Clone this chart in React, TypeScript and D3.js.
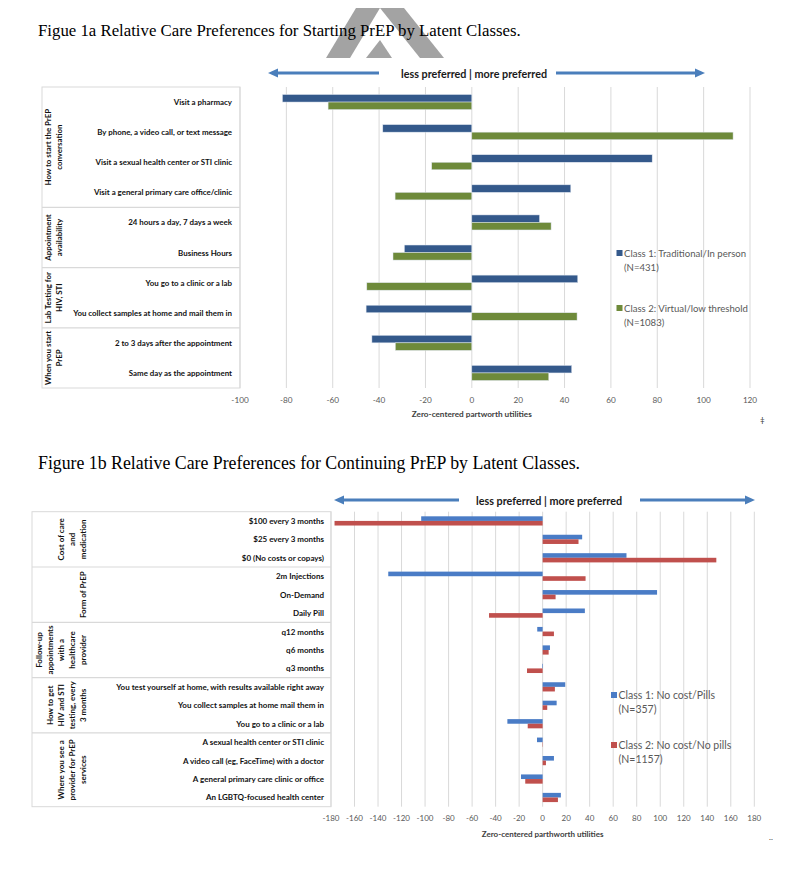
import React from "react";
import * as d3 from "d3";

// ---------- Figure 1a data ----------
const topCategories = [
  "Visit a pharmacy",
  "By phone, a video call, or text message",
  "Visit a sexual health center or STI clinic",
  "Visit a general primary care office/clinic",
  "24 hours a day, 7 days a week",
  "Business Hours",
  "You go to a clinic or a lab",
  "You collect samples at home and mail them in",
  "2 to 3 days after the appointment",
  "Same day as the appointment",
];
const topClass1 = [-81.7, -38.4, 77.8, 42.7, 29.2, -29.1, 45.7, -45.6, -43.1, 43.1];
const topClass2 = [-62, 112.7, -17.3, -33.1, 34.2, -34, -45.3, 45.4, -33, 33.2];
const topGroupLabels = [
  ["How to start the PrEP", "conversation"],
  ["Appointment", "availability"],
  ["Lab Testing for", "HIV, STI"],
  ["When you start", "PrEP"],
];
const topGroupSizes = [4, 2, 2, 2];
const topLegend = [
  ["Class 1: Traditional/In person", "(N=431)"],
  ["Class 2: Virtual/low threshold", "(N=1083)"],
];
const topAxisTitle = "Zero-centered partworth utilities";
const topDomain = [-100, 120];

// ---------- Figure 1b data ----------
const bottomCategories = [
  "$100 every 3 months",
  "$25 every 3 months",
  "$0 (No costs or copays)",
  "2m Injections",
  "On-Demand",
  "Daily Pill",
  "q12 months",
  "q6 months",
  "q3 months",
  "You test yourself at home, with results available right away",
  "You collect samples at home mail them in",
  "You go to a clinic or a lab",
  "A sexual health center or STI clinic",
  "A video call (eg, FaceTime) with a doctor",
  "A general primary care clinic or office",
  "An LGBTQ-focused health center",
];
const bottomClass1 = [-103.3, 33.6, 71.3, -131.3, 97.3, 35.9, -4.6, 6.2, -0.5, 19.2, 11.9, -30, -4.8, 9.6, -18.4, 15.5];
const bottomClass2 = [-177, 30.5, 147.7, 36.5, 11, -45.6, 9.6, 5.1, -13.3, 10.4, 3.9, -12.7, -0.3, 2.8, -14.8, 13];
const bottomGroupLabels = [
  ["Cost of care", "and", "medication"],
  ["Form of PrEP"],
  ["Follow-up", "appointments", "with a", "healthcare", "provider"],
  ["How to get", "HIV and STI", "testing, every", "3 months"],
  ["Where you see a", "provider for PrEP", "services"],
];
const bottomGroupSizes = [3, 3, 3, 3, 4];
const bottomLegend = [
  ["Class 1: No cost/Pills", "(N=357)"],
  ["Class 2: No cost/No pills", "(N=1157)"],
];
const bottomAxisTitle = "Zero-centered parthworth utilities";
const bottomDomain = [-180, 180];

const FONT = "Lato, 'Open Sans', sans-serif";
const SERIF = "'Liberation Serif', 'Times New Roman', serif";

type PanelProps = {
  categories: string[];
  s1: number[];
  s2: number[];
  groupLabels: string[][];
  groupSizes: number[];
  legend: string[][];
  axisTitle: string;
  domain: number[];
  colors: string[];
  tableX0: number;
  plotX0: number;
  plotX1: number;
  y0: number;
  y1: number;
  labelRight: number;
  groupLastX: number;
  labelSize: number;
  tickSize: number;
  tickY: number;
  titleY: number;
  legendX: number;
  legendYs: number[];
  legendSize: number;
  legendLine: number;
  barStroke: string;
};

function Panel(p: PanelProps) {
  const x = d3.scaleLinear().domain(p.domain).range([p.plotX0, p.plotX1]);
  const y = d3.scaleBand<string>().domain(p.categories).range([p.y0, p.y1]).padding(0);
  const sub = d3
    .scaleBand<string>()
    .domain(["a", "b"])
    .range([0, y.bandwidth()])
    .paddingInner(0)
    .paddingOuter(1);
  const ticks = d3.range(p.domain[0], p.domain[1] + 1, 20);
  const cum = d3.cumsum(p.groupSizes);
  const step = y.step();
  const series = [p.s1, p.s2];
  return (
    <g>
      {ticks.map((t) => (
        <line key={"g" + t} x1={x(t)} x2={x(t)} y1={p.y0} y2={p.y1} stroke="#d9d9d9" strokeWidth={1} />
      ))}
      <rect x={p.tableX0} y={p.y0} width={p.plotX0 - p.tableX0} height={p.y1 - p.y0} fill="none" stroke="#d9d9d9" strokeWidth={1} />
      {Array.from(cum)
        .slice(0, -1)
        .map((c, i) => (
          <line key={"d" + i} x1={p.tableX0} x2={p.plotX0} y1={p.y0 + c * step} y2={p.y0 + c * step} stroke="#d9d9d9" strokeWidth={1.2} />
        ))}
      {p.categories.map((c) => (
        <text
          key={"l" + c}
          x={p.labelRight}
          y={(y(c) as number) + step / 2}
          textAnchor="end"
          dominantBaseline="central"
          fontFamily={FONT}
          fontWeight="bold"
          fontSize={p.labelSize}
          fill="#111"
        >
          {c}
        </text>
      ))}
      {p.groupLabels.map((lines, gi) => {
        const start = gi === 0 ? 0 : cum[gi - 1];
        const cy = p.y0 + ((start + cum[gi]) / 2) * step;
        return lines.map((ln, li) => {
          const lx = p.groupLastX - (lines.length - 1 - li) * 11;
          return (
            <text
              key={"gl" + gi + "-" + li}
              transform={`translate(${lx},${cy}) rotate(-90)`}
              textAnchor="middle"
              dominantBaseline="central"
              fontFamily={FONT}
              fontWeight="bold"
              fontSize={p.labelSize}
              fill="#111"
            >
              {ln}
            </text>
          );
        });
      })}
      {series.map((vals, si) =>
        p.categories.map((c, i) => {
          const v = vals[i];
          const by = (y(c) as number) + (sub(si === 0 ? "a" : "b") as number);
          return (
            <rect
              key={"b" + si + "-" + i}
              x={Math.min(x(0), x(v))}
              y={by}
              width={Math.abs(x(v) - x(0))}
              height={sub.bandwidth()}
              fill={p.colors[si]}
              stroke={p.barStroke}
              strokeWidth={0.5}
            />
          );
        })
      )}
      {ticks.map((t) => (
        <text key={"t" + t} x={x(t)} y={p.tickY} textAnchor="middle" fontFamily={FONT} fontSize={p.tickSize} fill="#595959">
          {t}
        </text>
      ))}
      <text x={x(0)} y={p.titleY} textAnchor="middle" fontFamily={FONT} fontWeight="bold" fontSize={p.tickSize} fill="#404040">
        {p.axisTitle}
      </text>
      {p.legend.map((lines, li) => (
        <g key={"lg" + li}>
          <rect x={p.legendX - 7.5} y={p.legendYs[li] - 3} width={6} height={6} fill={p.colors[li]} />
          {lines.map((ln, k) => (
            <text
              key={k}
              x={p.legendX}
              y={p.legendYs[li] + k * p.legendLine}
              dominantBaseline="central"
              fontFamily={FONT}
              fontSize={p.legendSize}
              fill="#595959"
            >
              {ln}
            </text>
          ))}
        </g>
      ))}
    </g>
  );
}

function Arrows({ y, l0, l1, r0, r1, tx, size }: { y: number; l0: number; l1: number; r0: number; r1: number; tx: number; size: number }) {
  const c = "#4a7ebb";
  return (
    <g>
      <line x1={l0 + 8} x2={l1} y1={y} y2={y} stroke={c} strokeWidth={3} />
      <polygon points={`${l0},${y} ${l0 + 10},${y - 4.5} ${l0 + 10},${y + 4.5}`} fill={c} />
      <line x1={r0} x2={r1 - 8} y1={y} y2={y} stroke={c} strokeWidth={3} />
      <polygon points={`${r1},${y} ${r1 - 10},${y - 4.5} ${r1 - 10},${y + 4.5}`} fill={c} />
      <text x={tx} y={y} textAnchor="middle" dominantBaseline="central" fontFamily={FONT} fontWeight="bold" fontSize={size} fill="#1a1a1a">
        less preferred | more preferred
      </text>
    </g>
  );
}

export default function App() {
  return (
    <svg width={800} height={873} style={{ position: "absolute", left: 0, top: 0, background: "#fff" }}>
      <rect x={0} y={0} width={800} height={873} fill="#fff" />
      <g fill="#a3a3a3">
        <polygon points="326,58 350,58 380,8 356,8" />
        <polygon points="380,8 404,8 444,58 420,58" />
        <polygon points="366,58 380,40 392,58" />
      </g>
      <text x={38} y={36} fontFamily={SERIF} fontSize={16.8} fill="#000">
        Figue 1a Relative Care Preferences for Starting PrEP by Latent Classes.
      </text>
      <Arrows y={73} l0={268} l1={379} r0={556} r1={705} tx={474} size={10.8} />
      <Panel
        categories={topCategories}
        s1={topClass1}
        s2={topClass2}
        groupLabels={topGroupLabels}
        groupSizes={topGroupSizes}
        legend={topLegend}
        axisTitle={topAxisTitle}
        domain={topDomain}
        colors={["#34598b", "#6e8a3a"]}
        tableX0={42}
        plotX0={240}
        plotX1={750}
        y0={87}
        y1={388}
        labelRight={232}
        groupLastX={59}
        labelSize={7.9}
        tickSize={8.2}
        tickY={403}
        titleY={417}
        legendX={624}
        legendYs={[253, 308]}
        legendSize={9.6}
        legendLine={14}
        barStroke="#dfe6ef"
      />
      <text x={760} y={423} fontFamily={FONT} fontSize={8} fill="#333">‡</text>

      <text x={38} y={469} fontFamily={SERIF} fontSize={17.8} fill="#000">
        Figure 1b Relative Care Preferences for Continuing PrEP by Latent Classes.
      </text>
      <Arrows y={500} l0={334} l1={459} r0={640} r1={755} tx={549} size={10.8} />
      <Panel
        categories={bottomCategories}
        s1={bottomClass1}
        s2={bottomClass2}
        groupLabels={bottomGroupLabels}
        groupSizes={bottomGroupSizes}
        legend={bottomLegend}
        axisTitle={bottomAxisTitle}
        domain={bottomDomain}
        colors={["#4a7cc6", "#c0504d"]}
        tableX0={32}
        plotX0={331}
        plotX1={754.3}
        y0={511.7}
        y1={806.7}
        labelRight={324}
        groupLastX={83.3}
        labelSize={8}
        tickSize={8}
        tickY={821}
        titleY={837}
        legendX={618.5}
        legendYs={[695, 745]}
        legendSize={10.5}
        legendLine={14.3}
        barStroke="none"
      />
      <text x={769} y={840} fontFamily={FONT} fontSize={8} fill="#333">..</text>
    </svg>
  );
}
